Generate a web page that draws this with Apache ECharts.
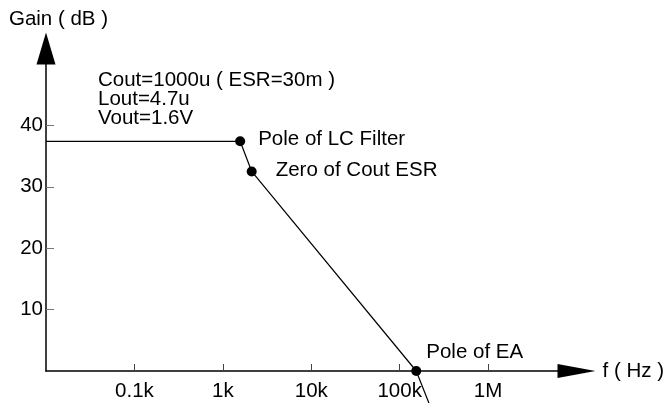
<!DOCTYPE html>
<html>
<head>
<meta charset="utf-8">
<script src="https://cdn.jsdelivr.net/npm/echarts@6/dist/echarts.min.js"></script>
<style>
  html, body { margin: 0; padding: 0; background: #fff; }
  #chart { width: 667px; height: 403px; }
</style>
</head>
<body>
<div id="chart"></div>
<script>
// gain curve (Hz, dB)
const curveFreq = [10, 1570, 2120, 154000, 225000];
const curveGain = [37.4, 37.4, 32.5, 0, -6];

// marked corner points
const pointFreq = [1570, 2120, 154000];
const pointGain = [37.4, 32.5, 0];
const pointNames = ['Pole of LC Filter', 'Zero of Cout ESR', 'Pole of EA'];

// axis ticks
const freqTicks = [100, 1000, 10000, 100000, 1000000];
const freqLabels = ['0.1k', '1k', '10k', '100k', '1M'];
const gainTicks = [10, 20, 30, 40];

const noteLines = ['Cout=1000u ( ESR=30m )', 'Lout=4.7u', 'Vout=1.6V'];

const FONT = 'Liberation Sans, Arial, sans-serif';
const FS = 20.5;

// label placement for each marked point
const labelPos = [
  { distance: 13, offset: [0, -2] },
  { distance: 19, offset: [0, -1] },
  { distance: 5, offset: [0, -19] }
];

const chart = echarts.init(document.getElementById('chart'));

const option = {
  backgroundColor: '#fff',
  animation: false,
  textStyle: { fontFamily: FONT },
  title: {
    text: noteLines.join('\n'),
    left: 98,
    top: 71,
    padding: 0,
    textStyle: {
      fontFamily: FONT,
      fontSize: FS,
      fontWeight: 'normal',
      color: '#000',
      lineHeight: 19
    }
  },
  grid: { left: 46, right: 90, top: 48.6, bottom: 32 },
  xAxis: {
    type: 'log',
    logBase: 10,
    min: 10,
    max: 10000000,
    name: 'f ( Hz )',
    nameLocation: 'end',
    nameGap: 26,
    nameTextStyle: { fontSize: FS, color: '#000', fontFamily: FONT, padding: [0, 0, 4, 0] },
    axisLine: {
      lineStyle: { color: '#000', width: 1.5 },
      symbol: ['none', 'triangle'],
      symbolSize: [14, 38]
    },
    axisTick: {
      inside: true,
      length: 7,
      customValues: freqTicks,
      lineStyle: { color: '#444' }
    },
    axisLabel: {
      customValues: freqTicks,
      margin: 10,
      fontSize: FS,
      color: '#000',
      fontFamily: FONT,
      formatter: function (v) {
        const i = freqTicks.findIndex(t => Math.abs(Math.log10(t) - Math.log10(v)) < 1e-6);
        return i >= 0 ? freqLabels[i] : '';
      }
    },
    splitLine: { show: false },
    minorTick: { show: false }
  },
  yAxis: {
    type: 'value',
    min: 0,
    max: 52.5,
    interval: 10,
    name: 'Gain ( dB )',
    nameLocation: 'end',
    nameGap: 19,
    nameTextStyle: { fontSize: FS, color: '#000', fontFamily: FONT, padding: [0, 0, 0, 25] },
    axisLine: {
      show: true,
      lineStyle: { color: '#000', width: 1.5 },
      symbol: ['none', 'triangle'],
      symbolSize: [19, 32]
    },
    axisTick: {
      show: true,
      inside: true,
      length: 8,
      customValues: gainTicks,
      lineStyle: { color: '#777' }
    },
    axisLabel: {
      customValues: gainTicks,
      margin: 3,
      fontSize: FS,
      color: '#000',
      fontFamily: FONT
    },
    splitLine: { show: false }
  },
  series: [
    {
      name: 'gain',
      type: 'line',
      clip: false,
      symbol: 'none',
      lineStyle: { color: '#000', width: 1.2 },
      data: curveFreq.map((f, i) => [f, curveGain[i]])
    },
    {
      name: 'points',
      type: 'scatter',
      clip: false,
      symbolSize: 10,
      itemStyle: { color: '#000', opacity: 1 },
      data: pointFreq.map((f, i) => ({
        value: [f, pointGain[i]],
        name: pointNames[i],
        label: {
          show: true,
          position: 'right',
          distance: labelPos[i].distance,
          offset: labelPos[i].offset,
          formatter: '{b}',
          fontSize: FS,
          color: '#000',
          fontFamily: FONT
        }
      }))
    }
  ]
};

chart.setOption(option);
</script>
</body>
</html>
